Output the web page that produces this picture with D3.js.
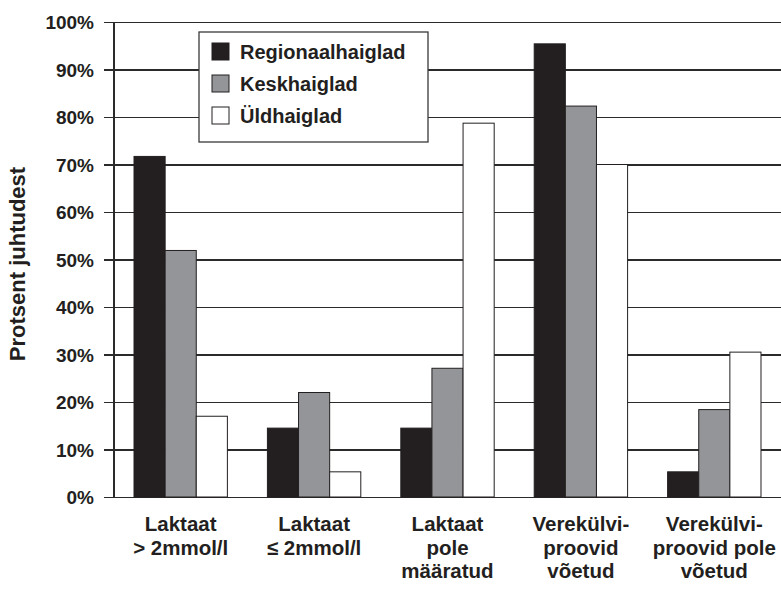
<!DOCTYPE html>
<html>
<head>
<meta charset="utf-8">
<script src="https://cdn.jsdelivr.net/npm/d3@7"></script>
<style>
  html, body { margin: 0; padding: 0; background: #fff; }
  svg { display: block; }
  text { font-family: "Liberation Sans", Arial, sans-serif; font-weight: 700; fill: #231f20; }
</style>
</head>
<body>
<svg id="chart" width="781" height="598"></svg>
<script>
// Categories (multi-line labels)
const categories = [
  ["Laktaat", "> 2mmol/l"],
  ["Laktaat", "≤ 2mmol/l"],
  ["Laktaat", "pole", "määratud"],
  ["Verekülvi-", "proovid", "võetud"],
  ["Verekülvi-", "proovid pole", "võetud"]
];
const seriesNames = ["Regionaalhaiglad", "Keskhaiglad", "Üldhaiglad"];
const regionaal = [71.7, 14.5, 14.5, 95.4, 5.3];
const kesk      = [51.9, 22.0, 27.1, 82.3, 18.4];
const uld       = [17.0, 5.3, 78.7, 70.0, 30.5];
const seriesValues = [regionaal, kesk, uld];
const seriesColors = ["#231f20", "#939598", "#ffffff"];
const yTicks = [0, 10, 20, 30, 40, 50, 60, 70, 80, 90, 100];
const yTitle = "Protsent juhtudest";

const svg = d3.select("#chart");
const margin = { left: 114, right: 0, top: 22, bottom: 101 };
const W = 781, H = 598;
const x0 = margin.left, x1 = W - margin.right;
const yTop = margin.top, yBot = H - margin.bottom;

const x = d3.scaleBand()
  .domain(d3.range(categories.length))
  .range([x0, x1])
  .paddingInner(0.3)
  .paddingOuter(0.15);
const xs = d3.scaleBand()
  .domain(d3.range(seriesNames.length))
  .range([0, x.bandwidth()]);
const y = d3.scaleLinear().domain([0, 100]).range([yBot, yTop]);

// Gridlines with tick extensions on the left
const yAxis = d3.axisLeft(y)
  .tickValues(yTicks)
  .tickSize(-(x1 - x0))
  .tickPadding(0)
  .tickFormat(d => d + "%");
const gy = svg.append("g").attr("transform", `translate(${x0},0)`).call(yAxis);
gy.attr("font-family", null).attr("font-size", null);
gy.select(".domain").remove();
gy.selectAll(".tick line")
  .attr("x1", -10)
  .attr("stroke", "#2b2b2b")
  .attr("stroke-width", 1.3)
  .attr("shape-rendering", "crispEdges");
gy.selectAll(".tick text")
  .attr("x", -20)
  .attr("dy", "0.36em")
  .style("font-size", "19px");

// Vertical axis line
svg.append("line")
  .attr("x1", x0).attr("x2", x0)
  .attr("y1", yTop).attr("y2", yBot)
  .attr("stroke", "#2b2b2b").attr("stroke-width", 1.3)
  .attr("shape-rendering", "crispEdges");

// Bars
const groups = svg.append("g").selectAll("g")
  .data(categories.map((c, i) => i))
  .join("g")
  .attr("transform", i => `translate(${x(i)},0)`);
groups.selectAll("rect")
  .data(i => seriesValues.map((vals, s) => ({ s, v: vals[i] })))
  .join("rect")
  .attr("x", d => xs(d.s))
  .attr("width", xs.bandwidth())
  .attr("y", d => y(d.v))
  .attr("height", d => y(0) - y(d.v))
  .attr("fill", d => seriesColors[d.s])
  .attr("stroke", "#231f20")
  .attr("stroke-width", 1);

// Category labels
const catLabels = svg.append("g");
categories.forEach((lines, i) => {
  const cx = x(i) + x.bandwidth() / 2;
  const t = catLabels.append("text")
    .attr("text-anchor", "middle")
    .style("font-size", "20.5px");
  lines.forEach((ln, k) => {
    t.append("tspan")
      .attr("x", cx)
      .attr("y", 531 + k * 23.5)
      .text(ln);
  });
});

// Y title
svg.append("text")
  .attr("transform", `translate(25,264) rotate(-90)`)
  .attr("text-anchor", "middle")
  .style("font-size", "22px")
  .text(yTitle);

// Legend
const lg = svg.append("g").attr("transform", "translate(199,32)");
lg.append("rect")
  .attr("width", 229).attr("height", 110)
  .attr("fill", "#fff").attr("stroke", "#3a3a3a").attr("stroke-width", 1.3);
seriesNames.forEach((name, s) => {
  const row = lg.append("g").attr("transform", `translate(13,${11 + s * 32})`);
  row.append("rect")
    .attr("width", 17).attr("height", 17)
    .attr("fill", seriesColors[s])
    .attr("stroke", "#231f20").attr("stroke-width", 1);
  row.append("text")
    .attr("x", 28).attr("y", 8.5).attr("dy", "0.36em")
    .style("font-size", "20px")
    .text(name);
});
</script>
</body>
</html>
